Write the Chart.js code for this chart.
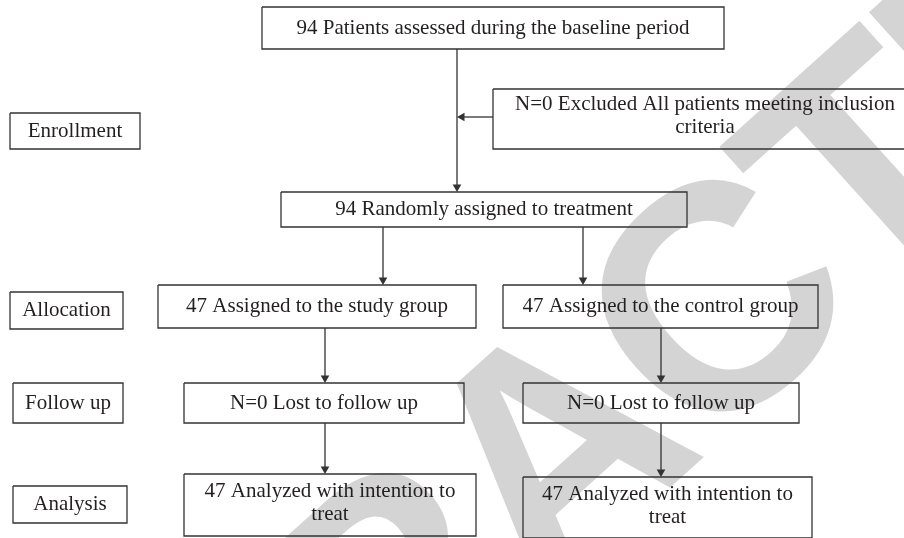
<!DOCTYPE html>
<html>
<head>
<meta charset="utf-8">
<script src="https://cdn.jsdelivr.net/npm/chart.js@4.4.0/dist/chart.umd.min.js"></script>
<style>
  html, body { margin: 0; padding: 0; background: #fff; }
  #wrap { width: 904px; height: 538px; }
</style>
</head>
<body>
<div id="wrap"><canvas id="flowChart" width="904" height="538"></canvas></div>
<script>
// stage names shown down the left side
const stageLabels = ["Enrollment", "Allocation", "Follow up", "Analysis"];

// patient counts for each step of the flow
const stepCounts = [94, 0, 94, 47, 47, 0, 0, 47, 47];
const stepPrefix = ["", "N=", "", "", "", "N=", "N=", "", ""];
const stepCaptions = [
    "Patients assessed during the baseline period",
    "Excluded All patients meeting inclusion\ncriteria",
    "Randomly assigned to treatment",
    "Assigned to the study group",
    "Assigned to the control group",
    "Lost to follow up",
    "Lost to follow up",
    "Analyzed with intention to\ntreat",
    "Analyzed with intention to\ntreat"
];

// layout (chart units, y grows downward): [x0, x1, y0, y1]
const stepBoxes = [
    [262, 724, 7, 49],
    [493, 917, 89, 149],
    [281, 687, 192, 227],
    [158, 476, 285, 328],
    [503, 818, 285, 328],
    [184, 464, 383, 423],
    [523, 799, 383, 423],
    [184, 476, 474, 536],
    [523, 812, 477, 538]
];
const stageBoxes = [
    [10, 140, 113, 149],
    [10, 123, 292, 329],
    [13, 123, 383, 423],
    [13, 127, 486, 523]
];
// arrows: [xStart, yStart, xTip, yTip]
const arrows = [
    [457, 49, 457, 192],
    [493, 117, 457, 117],
    [383, 227, 383, 285],
    [583, 227, 583, 285],
    [325, 328, 325, 383],
    [661, 328, 661, 383],
    [325, 423, 325, 474],
    [661, 423, 661, 477]
];

const lineColor = "#333333";
const textColor = "#231f20";
const headSize = 5;

function outline(b) {
    return [
        { x: b[0], y: b[2] }, { x: b[1], y: b[2] },
        { x: b[1], y: b[3] }, { x: b[0], y: b[3] },
        { x: b[0], y: b[2] }
    ];
}

const datasets = [];
for (const b of stepBoxes.concat(stageBoxes)) {
    datasets.push({
        data: outline(b),
        showLine: true,
        borderColor: lineColor,
        borderWidth: 1.3,
        pointRadius: 0
    });
}
for (const a of arrows) {
    const dx = Math.sign(a[2] - a[0]);
    const dy = Math.sign(a[3] - a[1]);
    // arrowhead rotation: down = 180, left = 270
    const rot = dy > 0 ? 180 : (dx < 0 ? 270 : 90);
    datasets.push({
        data: [
            { x: a[0], y: a[1] },
            { x: a[2] - dx * headSize, y: a[3] - dy * headSize }
        ],
        showLine: true,
        borderColor: lineColor,
        borderWidth: 1.3,
        pointRadius: [0, headSize],
        pointStyle: "triangle",
        rotation: rot,
        pointBackgroundColor: lineColor,
        pointBorderColor: lineColor,
        pointBorderWidth: 0
    });
}

// light grey stamp behind the diagram
const watermark = {
    id: "watermark",
    beforeDatasetsDraw(chart) {
        const ctx = chart.ctx;
        const fs = 320;
        ctx.save();
        ctx.font = "bold " + fs + "px 'Liberation Sans'";
        ctx.letterSpacing = "-12px";
        ctx.fillStyle = "#d4d4d4";
        const pre = ctx.measureText("RETRA").width;
        const wc = ctx.measureText("C").width;
        ctx.translate(chart.scales.x.getPixelForValue(706), chart.scales.y.getPixelForValue(301));
        ctx.rotate(-42 * Math.PI / 180);
        ctx.textBaseline = "alphabetic";
        ctx.fillText("RETRACTED", -(pre + wc / 2), fs * 0.358);
        ctx.restore();
    }
};

// vertical nudge of the text block in each box
const textShift = [0, -3, 0, 0, 0, 0, 0, -2, -2];

const boxText = {
    id: "boxText",
    afterDatasetsDraw(chart) {
        const ctx = chart.ctx;
        const xs = chart.scales.x, ys = chart.scales.y;
        ctx.save();
        ctx.font = "21px 'Liberation Serif'";
        ctx.fillStyle = textColor;
        ctx.textAlign = "center";
        ctx.textBaseline = "middle";
        const draw = (txt, b, shift) => {
            const lines = txt.split("\n");
            const cx = xs.getPixelForValue((b[0] + b[1]) / 2);
            const cy = ys.getPixelForValue((b[2] + b[3]) / 2 + shift);
            const lh = 23;
            lines.forEach((ln, i) => {
                ctx.fillText(ln, cx, cy + (i - (lines.length - 1) / 2) * lh);
            });
        };
        stepCounts.forEach((n, i) => {
            draw(stepPrefix[i] + n + " " + stepCaptions[i], stepBoxes[i], textShift[i]);
        });
        stageLabels.forEach((s, i) => draw(s, stageBoxes[i], 0));
        ctx.restore();
    }
};

new Chart(document.getElementById("flowChart"), {
    type: "scatter",
    data: { datasets: datasets },
    options: {
        responsive: false,
        animation: false,
        layout: { padding: 0, autoPadding: false },
        scales: {
            x: { type: "linear", min: 0, max: 904, display: false },
            y: { type: "linear", min: 0, max: 538, reverse: true, display: false }
        },
        plugins: {
            legend: { display: false },
            tooltip: { enabled: false }
        }
    },
    plugins: [watermark, boxText]
});
</script>
</body>
</html>
